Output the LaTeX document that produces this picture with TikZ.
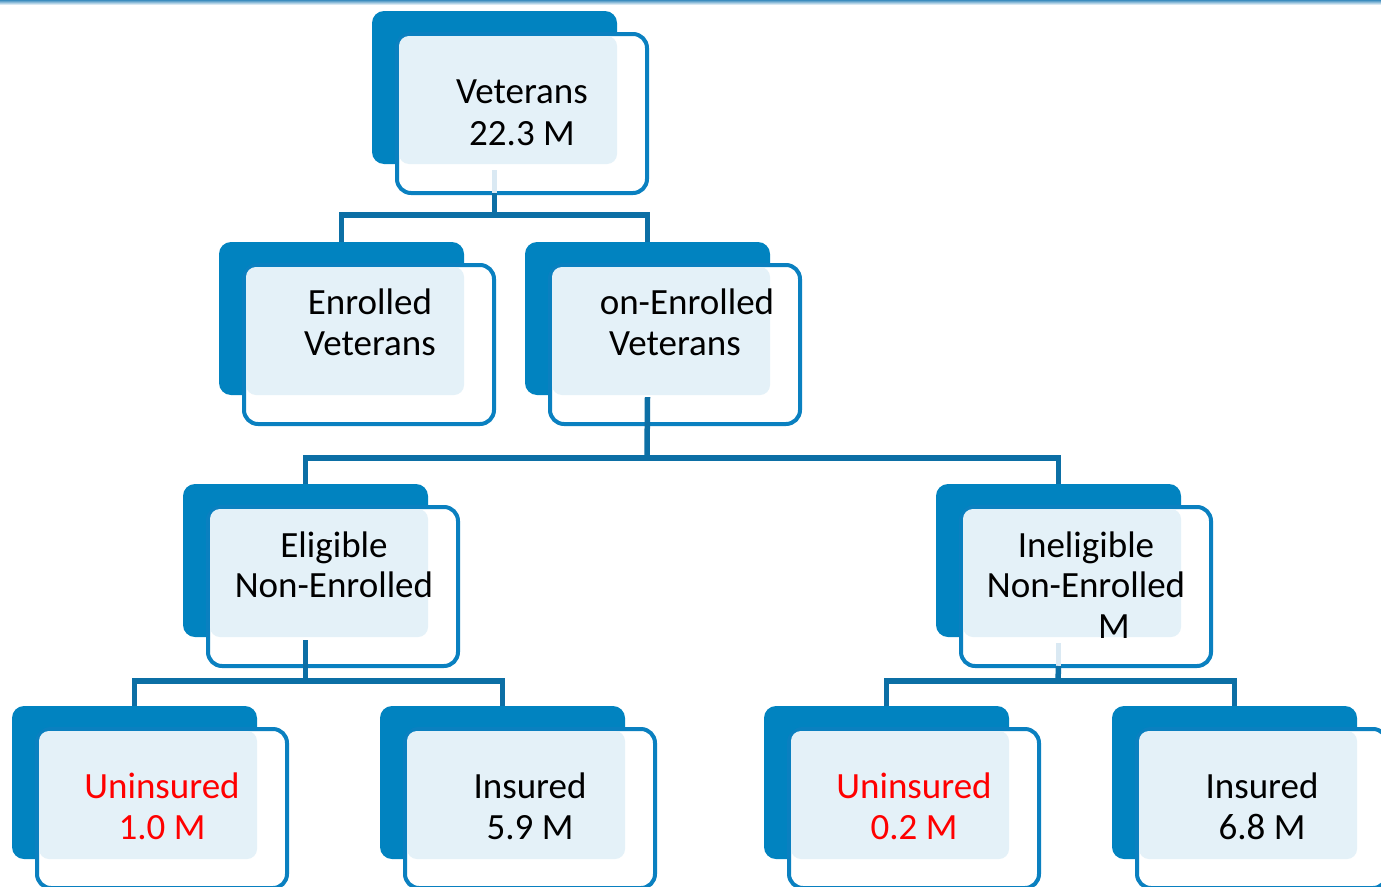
\documentclass[tikz,border=0pt]{standalone}
\usepackage{fontspec}
\setmainfont{Carlito}
\definecolor{darkc}{RGB}{1,131,192}
\definecolor{outc}{RGB}{10,128,192}
\definecolor{lightc}{RGB}{228,241,248}
\definecolor{connc}{RGB}{12,111,165}
\definecolor{connl}{RGB}{218,233,243}
\definecolor{topc}{RGB}{60,140,190}
\definecolor{redc}{RGB}{255,0,0}
\tikzset{
  darkbox/.style={rectangle, rounded corners=12pt, minimum width=245pt, minimum height=153pt, inner sep=0pt, fill=darkc},
  outbox/.style={rectangle, rounded corners=14pt, minimum width=250pt, minimum height=159pt, inner sep=0pt, draw=outc, line width=4pt, fill=white},
  lightbox/.style={rectangle, rounded corners=10pt, minimum width=218pt, minimum height=128pt, inner sep=0pt, fill=lightc},
  txt/.style={anchor=base, inner sep=0pt, font=\fontsize{37}{43}\selectfont},
  redtxt/.style={txt, text=redc},
  conn/.style={draw=connc, line width=5.5pt},
  connlight/.style={draw=connl, line width=5.5pt},
}
\newcommand\orgbox[3]{%
  \node[darkbox] (#1) at (#2+122.5,#3+76.5) {};
  \node[outbox] (#1O) at (#2+150,#3+102.5) {};
  \node[lightbox] (#1L) at (#2+136,#3+89) {};
}
\begin{document}
\begin{tikzpicture}[x=1pt,y=-1pt]
\useasboundingbox (0,0) rectangle (1381,886);
\clip (0,0) rectangle (1381,886);
\fill[white] (0,0) rectangle (1381,886);
\shade[top color=topc, bottom color=white] (0,0) rectangle (1381,5);

% boxes
\orgbox{vet}{372}{11}
\orgbox{enr}{219}{242}
\orgbox{non}{525}{242}
\orgbox{eli}{183}{484}
\orgbox{ine}{936}{484}
\orgbox{una}{12}{706}
\orgbox{insa}{380}{706}
\orgbox{unb}{764}{706}
\orgbox{insb}{1112}{706}

% junctions
\coordinate (j1) at (494.5,215);
\coordinate (j2) at (647,458);
\coordinate (j3) at (305.5,681);
\coordinate (j4) at (1058,681);
\coordinate (v1) at ([yshift=2pt]vet.south |- vetO.south);
\coordinate (v4) at ([yshift=2pt]ine.south |- ineO.south);

% connectors
\draw[connlight] ([yshift=-6pt]vet.south) -- (v1);
\draw[conn] (v1) -- (j1);
\draw[conn] (j1) -| (enr.north);
\draw[conn] (j1) -| (non.north);

\draw[conn] ([yshift=-2pt]non.south) -- (j2);
\draw[conn] (j2) -| (eli.north);
\draw[conn] (j2) -| (ine.north);

\draw[conn] ([yshift=-3pt]eli.south) -- (j3);
\draw[conn] (j3) -| (una.north);
\draw[conn] (j3) -| (insa.north);

\draw[connlight] ([yshift=-6pt]ine.south) -- (v4);
\draw[conn] (v4) -- (j4);
\draw[conn] (j4) -| (unb.north);
\draw[conn] (j4) -| (insb.north);

% texts
\node[txt] (t1a) at (522,103) {Veterans};
\node[txt] (t1b) at (522,145) {22.3 M};
\node[txt] (t2a) at (370,314) {Enrolled};
\node[txt] (t2b) at (370,355) {Veterans};
\node[txt] (t3a) at (687,314) {on-Enrolled};
\node[txt] (t3b) at (675,355) {Veterans};
\node[txt] (t4a) at (334,557) {Eligible};
\node[txt] (t4b) at (334,597) {Non-Enrolled};
\node[txt] (t5a) at (1086,557) {Ineligible};
\node[txt] (t5b) at (1086,597) {Non-Enrolled};
\node[txt] (t5c) at (1114,638) {M};
\node[redtxt] (t6a) at (162,798) {Uninsured};
\node[redtxt] (t6b) at (162,839) {1.0 M};
\node[txt] (t7a) at (530,798) {Insured};
\node[txt] (t7b) at (530,839) {5.9 M};
\node[redtxt] (t8a) at (914,798) {Uninsured};
\node[redtxt] (t8b) at (914,839) {0.2 M};
\node[txt] (t9a) at (1262,798) {Insured};
\node[txt] (t9b) at (1262,839) {6.8 M};
\end{tikzpicture}
\end{document}
